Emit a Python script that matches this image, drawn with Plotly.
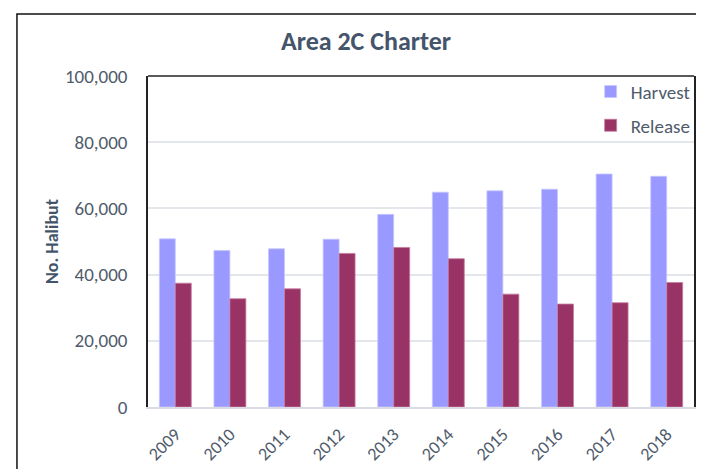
import plotly.graph_objects as go

years = ["2009", "2010", "2011", "2012", "2013", "2014", "2015", "2016", "2017", "2018"]
harvest = [50800, 47300, 47800, 50700, 58200, 64900, 65300, 65800, 70400, 69700]
release = [37400, 32700, 35700, 46400, 48200, 44800, 34100, 31100, 31500, 37600]
y_ticks = [0, 20000, 40000, 60000, 80000, 100000]
y_ticklabels = ["0", "20,000", "40,000", "60,000", "80,000", "100,000"]

FONT = "Carlito, Lato, 'Open Sans', sans-serif"
TXT = "#4f5b6b"

fig = go.Figure()
fig.add_trace(go.Bar(x=years, y=harvest, name="Harvest", legendgroup="h",
                     marker=dict(color="#9999FF", line=dict(color="#c8c8ff", width=0.8))))
fig.add_trace(go.Bar(x=years, y=release, name="Release", legendgroup="r",
                     marker=dict(color="#993366", line=dict(color="#c77a9e", width=0.8))))

# page body has an 8px margin, so the figure is 8px smaller than the window
fig.update_layout(
    width=696, height=461,
    margin=dict(l=140, r=10, t=68, b=62, autoexpand=False),
    paper_bgcolor="white", plot_bgcolor="white",
    barmode="group", bargap=0.415, bargroupgap=0,
    font=dict(family=FONT, size=18, color=TXT),
    title=dict(text="<b>Area 2C Charter</b>", x=(366 - 8) / 696, xanchor="center",
               y=1 - (41 - 8) / 461, yanchor="middle",
               font=dict(family=FONT, size=26, color="#44546A")),
    legend=dict(x=1.003, y=1.01, xanchor="right", yanchor="top", bgcolor="rgba(0,0,0,0)",
                font=dict(family=FONT, size=19, color=TXT), tracegroupgap=6,
                itemwidth=30, traceorder="grouped"),
    showlegend=True,
)
fig.update_xaxes(showgrid=False, showline=True, linecolor="#d9dde3", linewidth=1.5,
                 tickangle=-45, ticks="", ticklabelstandoff=8, automargin=False,
                 tickfont=dict(family=FONT, size=18, color=TXT))
fig.update_yaxes(range=[0, 100000], tickvals=y_ticks, ticktext=y_ticklabels,
                 showgrid=True, gridcolor="#e3e6ea", gridwidth=1.5, zeroline=False,
                 showline=True, mirror=True, linecolor="#222222", linewidth=1.5,
                 ticks="", ticklabelstandoff=15, automargin=False,
                 tickfont=dict(family=FONT, size=19, color=TXT),
                 title=dict(text="<b>No. Halibut</b>", standoff=2,
                            font=dict(family=FONT, size=18, color="#44546A")))
fig.add_shape(type="line", xref="paper", yref="paper", x0=0, x1=1, y0=1, y1=1,
              line=dict(color="#222222", width=1.5))
fig.add_shape(type="rect", xref="paper", yref="paper", x0=-0.24, x1=1.0165, y0=-0.25, y1=1.187,
              line=dict(color="#111111", width=1.5))
fig.write_html("out.html")
